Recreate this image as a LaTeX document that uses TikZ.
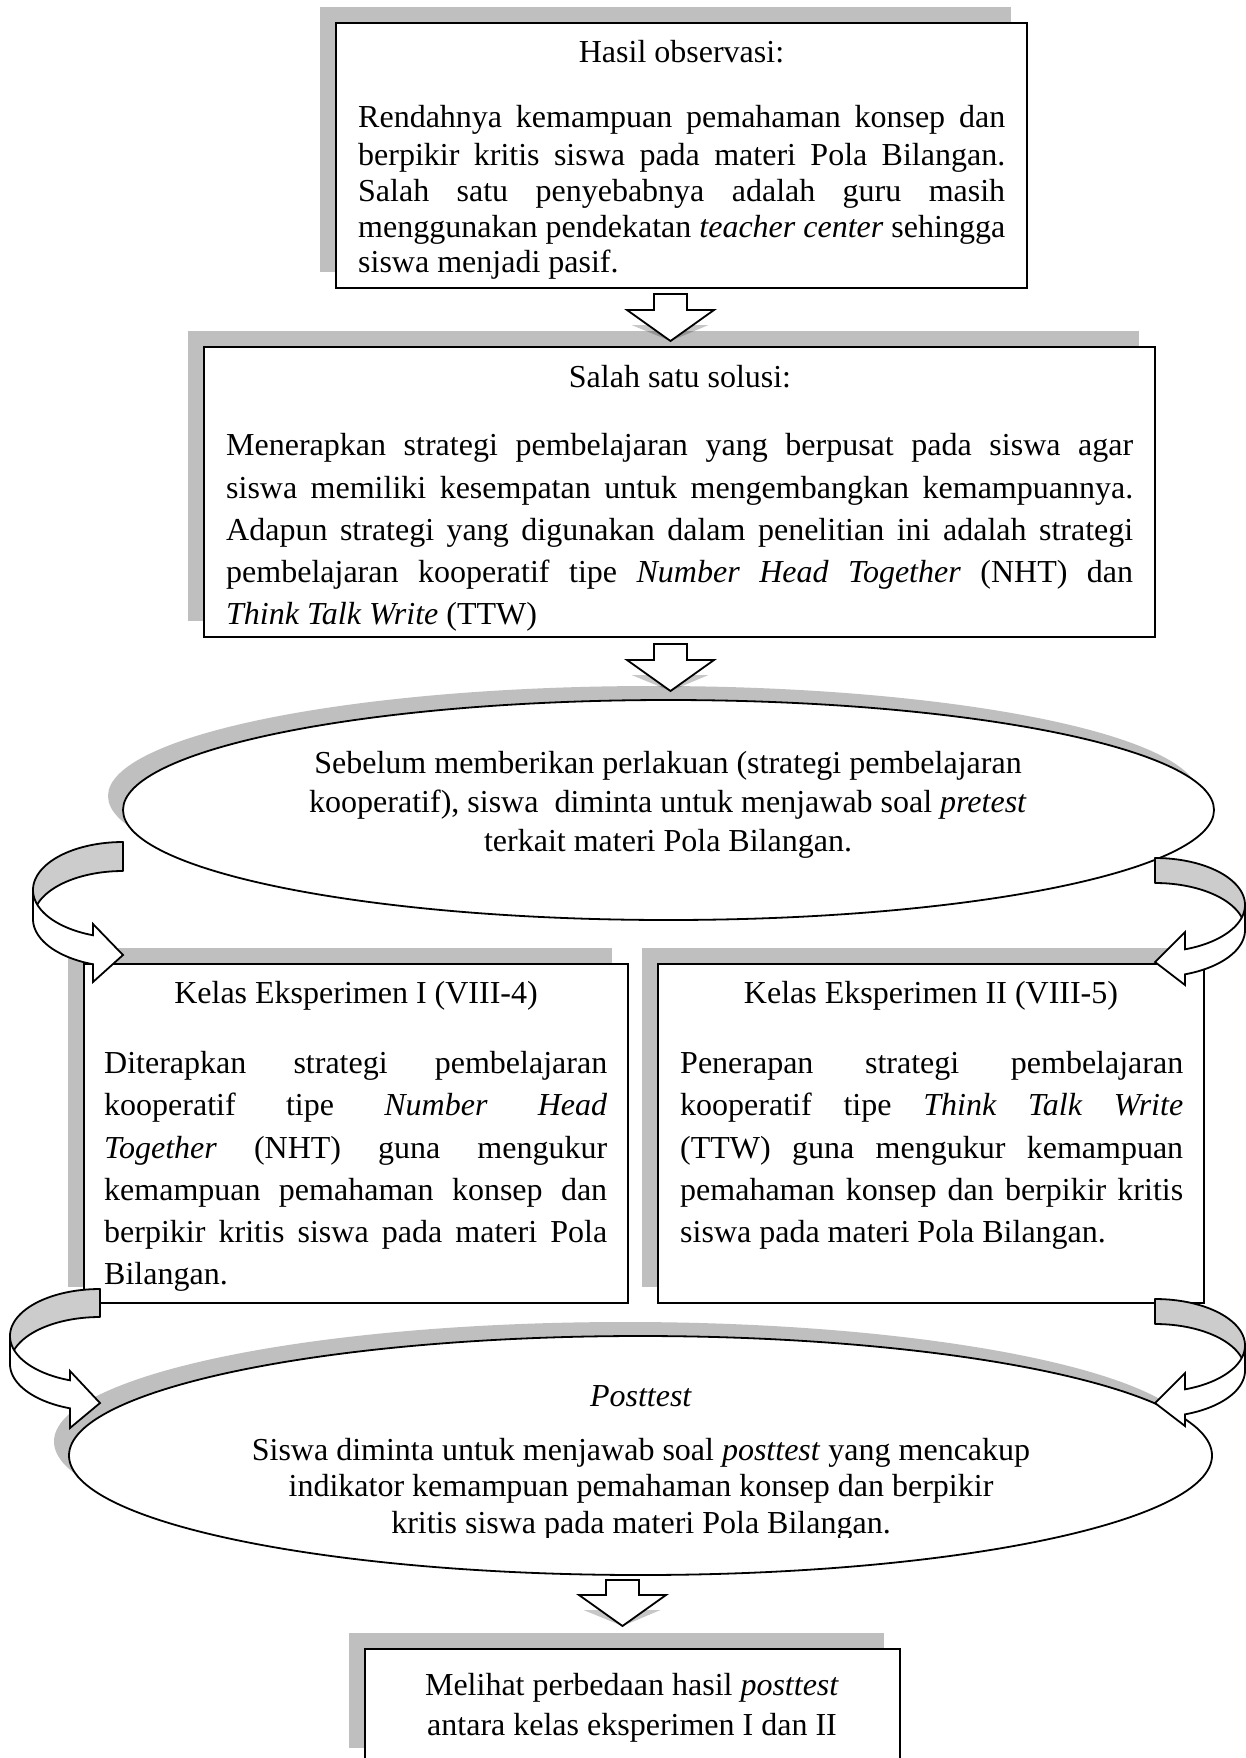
\documentclass[tikz,border=0pt]{standalone}
\usepackage{fontspec}
\setmainfont{Liberation Serif}
\usetikzlibrary{shapes.geometric,shadows}
\definecolor{shd}{RGB}{191,191,191}
\definecolor{rib}{RGB}{204,204,204}
\newcommand{\fs}{\fontsize{32}{38}\selectfont}
% ribbon arrow: #1 cx, #2 cy, #3 ry, #4 h, #5 dir, #6 head top y, #7 tip y, #8 head bottom y
\newcommand{\ribbonarrow}[8]{%
  \begin{scope}[shift={(#1,#2)}, xscale=#5]
    \filldraw[fill=rib, line width=1.8pt, line join=round]
      (0,-#3) -- plot[variable=\t, domain=0:90, samples=40] ({90*cos(270-\t)},{#3*sin(270-\t)})
      -- (-90,#4) -- plot[variable=\t, domain=0:90, samples=40] ({90*cos(180+\t)},{#4+#3*sin(180+\t)}) -- cycle;
    \filldraw[fill=white, line width=1.8pt, line join=miter]
      (-90,0) -- plot[variable=\t, domain=0:70.53, samples=40] ({90*cos(180-\t)},{#3*sin(180-\t)})
      -- (-30,{#6-#2}) -- (0,{#7-#2}) -- (-30,{#8-#2})
      -- plot[variable=\t, domain=0:70.53, samples=40] ({90*cos(109.47+\t)},{#4+#3*sin(109.47+\t)}) -- cycle;
  \end{scope}}
% block arrow: #1 name, #2 cx, #3 top, #4 head base, #5 tip
\newcommand{\blockarrow}[5]{%
  \coordinate (#1) at (#2,#5);
  \fill[black, opacity=0.22] ({#2-39},{#4+15}) -- ({#2+38},{#4+15}) -- (#1) -- cycle;
  \filldraw[fill=white, line width=1.8pt, line join=miter]
   ({#2-16.5},#3) -- ({#2+16.5},#3) -- ({#2+16.5},#4) -- ({#2+43.5},#4) -- (#1)
   -- ({#2-43.5},#4) -- ({#2-16.5},#4) -- cycle;}
\begin{document}
\begin{tikzpicture}[x=1pt,y=-1pt,
  every node/.style={inner sep=0pt},
  boxnode/.style={draw, fill=white, line width=1.8pt, rectangle,
    drop shadow={shadow xshift=-16pt, shadow yshift=16pt, fill=shd, opacity=1}},
  ellnode/.style={draw, fill=white, line width=1.8pt, ellipse,
    drop shadow={shadow xshift=-15pt, shadow yshift=14pt, fill=shd, opacity=1}},
  jl/.style={anchor=base west, font=\fs},
  cl/.style={anchor=base, font=\fs}]
\path[use as bounding box] (0,0) rectangle (1246,1758);
\clip (0,0) rectangle (1246,1758);
\fill[white] (0,0) rectangle (1246,1758);

% ---- Box 1
\node[boxnode, minimum width=691pt, minimum height=265pt] (b1) at (681.5,155.5) {};
\node[cl] (t1t) at (681.5,63) {Hasil observasi:};
\node[jl] (t1a) at (358,128) {\makebox[647pt][s]{Rendahnya kemampuan pemahaman konsep dan}};
\node[jl] (t1b) at (358,165) {\makebox[647pt][s]{berpikir kritis siswa pada materi Pola Bilangan.}};
\node[jl] (t1c) at (358,201) {\makebox[647pt][s]{Salah satu penyebabnya adalah guru masih}};
\node[jl] (t1d) at (358,237) {\makebox[647pt][s]{menggunakan pendekatan \textit{teacher center} sehingga}};
\begin{scope}
  \clip (340,245) rectangle (1020,279);
  \node[jl] (t1e) at (358,272) {siswa menjadi pasif.};
\end{scope}

% ---- Box 2
\node[boxnode, minimum width=951pt, minimum height=290pt] (b2) at (679.5,492) {};
\node[cl] (t2t) at (680,387) {Salah satu solusi:};
\node[jl] (t2a) at (226,455) {\makebox[907pt][s]{Menerapkan strategi pembelajaran yang berpusat pada siswa agar}};
\node[jl] (t2b) at (226,498) {\makebox[907pt][s]{siswa memiliki kesempatan untuk mengembangkan kemampuannya.}};
\node[jl] (t2c) at (226,540) {\makebox[907pt][s]{Adapun strategi yang digunakan dalam penelitian ini adalah strategi}};
\node[jl] (t2d) at (226,582) {\makebox[907pt][s]{pembelajaran kooperatif tipe \textit{Number Head Together} (NHT) dan}};
\node[jl] (t2e) at (226,624) {\textit{Think Talk Write} (TTW)};

\blockarrow{a1}{670.5}{294}{310}{341}

% ---- Ellipse 1
\node[ellnode, minimum width=1091pt, minimum height=220pt] (e1) at (668.5,810) {};
\node[cl] (t3a) at (668,773) {Sebelum memberikan perlakuan (strategi pembelajaran};
\node[cl] (t3b) at (668,812) {kooperatif), siswa\ \ diminta untuk menjawab soal \textit{pretest}};
\node[cl] (t3c) at (668,851) {terkait materi Pola Bilangan.};

\blockarrow{a2}{670.5}{644}{660}{691}

% ---- Kelas Eksperimen boxes
\node[boxnode, minimum width=544pt, minimum height=339pt] (k1) at (356,1133.5) {};
\node[cl] (t4t) at (356,1003) {Kelas Eksperimen I (VIII-4)};
\node[jl] (t4a) at (104,1073) {\makebox[503pt][s]{Diterapkan strategi pembelajaran}};
\node[jl] (t4b) at (104,1115) {\makebox[503pt][s]{kooperatif tipe \textit{Number Head}}};
\node[jl] (t4c) at (104,1158) {\makebox[503pt][s]{\textit{Together} (NHT) guna mengukur}};
\node[jl] (t4d) at (104,1200) {\makebox[503pt][s]{kemampuan pemahaman konsep dan}};
\node[jl] (t4e) at (104,1242) {\makebox[503pt][s]{berpikir kritis siswa pada materi Pola}};
\node[jl] (t4f) at (104,1284) {Bilangan.};

\node[boxnode, minimum width=546pt, minimum height=339pt] (k2) at (931,1133.5) {};
\node[cl] (t5t) at (931,1003) {Kelas Eksperimen II (VIII-5)};
\node[jl] (t5a) at (680,1073) {\makebox[503pt][s]{Penerapan strategi pembelajaran}};
\node[jl] (t5b) at (680,1115) {\makebox[503pt][s]{kooperatif tipe \textit{Think Talk Write}}};
\node[jl] (t5c) at (680,1158) {\makebox[503pt][s]{(TTW) guna mengukur kemampuan}};
\node[jl] (t5d) at (680,1200) {\makebox[503pt][s]{pemahaman konsep dan berpikir kritis}};
\node[jl] (t5e) at (680,1242) {siswa pada materi Pola Bilangan.};

\ribbonarrow{123}{890}{48}{29}{1}{924}{955}{982}
\ribbonarrow{1155}{905}{47}{25}{-1}{932}{962}{985}

% ---- Ellipse 2
\node[ellnode, minimum width=1143pt, minimum height=239pt] (e2) at (640.5,1455.5) {};
\node[cl] (t6t) at (641,1406) {\textit{Posttest}};
\node[cl] (t6a) at (641,1460) {Siswa diminta untuk menjawab soal \textit{posttest} yang mencakup};
\node[cl] (t6b) at (641,1496) {indikator kemampuan pemahaman konsep dan berpikir};
\begin{scope}
  \clip (300,1505) rectangle (1000,1537);
  \node[cl] (t6c) at (641,1533) {kritis siswa pada materi Pola Bilangan.};
\end{scope}

\ribbonarrow{100}{1336}{47}{28}{1}{1371}{1403}{1428}
\ribbonarrow{1155}{1345.5}{46.5}{25}{-1}{1373}{1403}{1426}

% ---- Bottom box
\node[boxnode, minimum width=535pt, minimum height=115pt] (b3) at (632.5,1706.5) {};
\node[cl] (t7a) at (632,1695) {Melihat perbedaan hasil \textit{posttest}};
\node[cl] (t7b) at (632,1735) {antara kelas eksperimen I dan II};

\blockarrow{a3}{622.5}{1580}{1595}{1626}
\end{tikzpicture}
\end{document}
